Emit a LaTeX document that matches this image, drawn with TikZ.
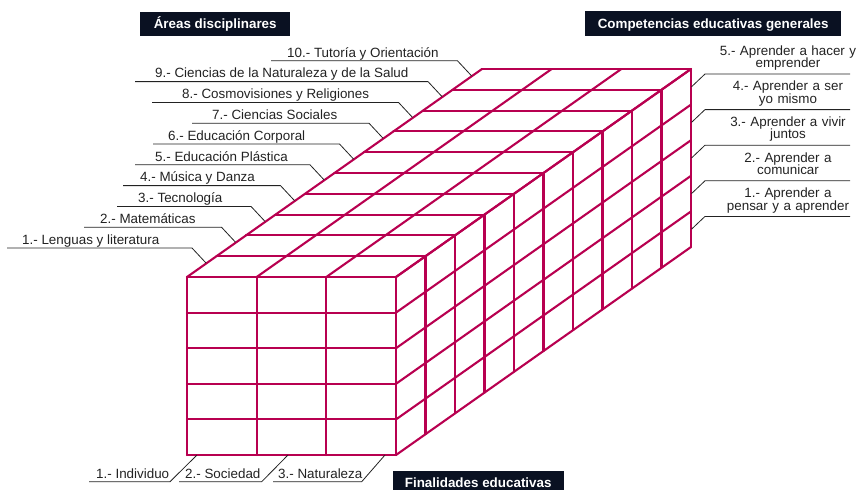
\documentclass[tikz,border=0pt]{standalone}
\usepackage{fontspec}
\setmainfont{Liberation Sans}
\definecolor{mag}{RGB}{184,0,80}
\definecolor{navy}{RGB}{10,17,34}
\definecolor{ink}{RGB}{34,34,34}
\begin{document}
\begin{tikzpicture}[x=1pt,y=-1pt,
  cube/.style={draw=mag,line width=2.1pt,line cap=round},
  lead/.style={draw=ink,line width=0.8pt},
  lab/.style={font=\fontsize{13.4}{14}\selectfont,text=ink,inner sep=0pt},
  rlab/.style={font=\fontsize{13.4}{12.5}\selectfont,text=ink,inner sep=0pt,text width=160pt,align=center,anchor=base},
  hdr/.style={fill=navy,text=white,font=\bfseries\fontsize{13.4}{14}\selectfont,text height=9.6pt,text depth=0pt,inner sep=0pt,anchor=north west}]
\useasboundingbox (0,0) rectangle (857,490);
% ---- cube: front face
\foreach \i in {0,...,3} \draw[cube] ({187+69.667*\i},277) -- ({187+69.667*\i},455);
\foreach \j in {0,...,5} \draw[cube] (187,{277+35.6*\j}) -- (396,{277+35.6*\j});
% ---- top face
\foreach \k in {1,...,10} \draw[cube] ({187+29.5*\k},{277-20.8*\k}) -- ({396+29.5*\k},{277-20.8*\k});
\foreach \i in {0,...,3} \draw[cube] ({187+69.667*\i},277) -- ++(295,-208);
% ---- right face
\foreach \k in {1,...,10} \draw[cube] ({396+29.5*\k},{277-20.8*\k}) -- ++(0,178);
\foreach \j in {0,...,5} \draw[cube] (396,{277+35.6*\j}) -- ++(295,-208);
% ---- headers
\node[hdr,minimum width=150pt,minimum height=24.3pt] (areas) at (140,11.7) {Áreas disciplinares};
\node[hdr,minimum width=256pt,minimum height=25pt] (comp) at (585,10.7) {Competencias educativas generales};
\node[hdr,minimum width=170.6pt,minimum height=24.3pt] (fin) at (392.7,470.7) {Finalidades educativas};
% ---- left labels (áreas disciplinares)
\foreach \n/\s/\t/\txt in {
  0/7/22/{1.- Lenguas y literatura},
  1/84/100/{2.- Matemáticas},
  2/117/138/{3.- Tecnología},
  3/123/140/{4.- Música y Danza},
  4/135/155/{5.- Educación Plástica},
  5/153/168/{6.- Educación Corporal},
  6/192/212/{7.- Ciencias Sociales},
  7/152/182/{8.- Cosmovisiones y Religiones},
  8/135/155/{9.- Ciencias de la Naturaleza y de la Salud},
  9/271/287/{10.- Tutoría y Orientación}}{
  \coordinate (Lu\n) at (\s,{248-20.8*\n});
  \coordinate (Le\n) at ({192+29.5*\n},{248-20.8*\n});
  \coordinate (Lc\n) at ({206+29.5*\n},{263-20.8*\n});
  \draw[lead] (Lu\n) -- (Le\n) -- (Lc\n);
  \node[lab,anchor=base west] (Lt\n) at (\t,{244.3-20.8*\n}) {\txt};
}
% ---- right labels (competencias)
\foreach \n/\txt in {
  0/{1.- Aprender a\\pensar y a aprender},
  1/{2.- Aprender a\\comunicar},
  2/{3.- Aprender a vivir\\juntos},
  3/{4.- Aprender a ser\\yo mismo},
  4/{5.- Aprender a hacer y\\emprender}}{
  \coordinate (Rs\n) at (705,{216.4-35.6*\n});
  \coordinate (Re\n) at (850,{216.4-35.6*\n});
  \coordinate (Rc\n) at (691.5,{229.2-35.6*\n});
  \draw[lead] (Re\n) -- (Rs\n) -- (Rc\n);
  \node[rlab] (Rt\n) at (788,{197.6-35.6*\n}) {\txt};
}
% ---- bottom labels (finalidades)
\foreach \n/\s/\e/\c/\t/\txt in {
  1/89/170/197/96/{1.- Individuo},
  2/179/261.7/288/185/{2.- Sociedad},
  3/273/361.7/385/278/{3.- Naturaleza}}{
  \coordinate (Bs\n) at (\s,481.7);
  \coordinate (Be\n) at (\e,481.7);
  \coordinate (Bc\n) at (\c,455);
  \draw[lead] (Bs\n) -- (Be\n) -- (Bc\n);
  \node[lab,anchor=base west] (Bt\n) at (\t,478.3) {\txt};
}
\end{tikzpicture}
\end{document}
